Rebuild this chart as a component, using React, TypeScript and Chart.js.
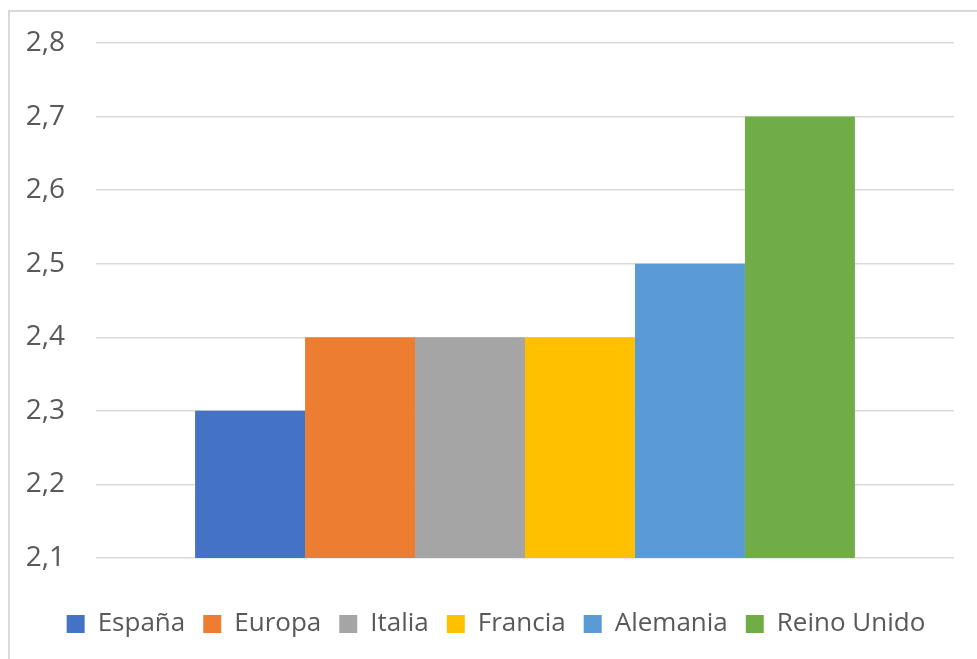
import React, { useEffect, useRef } from "react";
import { Chart, registerables } from "chart.js";

Chart.register(...registerables);

const CATEGORIES = [""];
const SERIES_NAMES = ["España", "Europa", "Italia", "Francia", "Alemania", "Reino Unido"];
const SERIES_VALUES = [2.3, 2.4, 2.4, 2.4, 2.5, 2.7];
const SERIES_COLORS = ["#4472C4", "#ED7D31", "#A5A5A5", "#FFC000", "#5B9BD5", "#70AD47"];
const Y_TICKS = [2.1, 2.2, 2.3, 2.4, 2.5, 2.6, 2.7, 2.8];

const FONT = "'Open Sans', 'Liberation Sans', sans-serif";

const legendShift = {
  id: "legendShift",
  afterLayout(chart: any) {
    if (chart.legend) {
      chart.legend.left += 14;
      chart.legend.right += 14;
    }
  },
};

export default function App() {
  const ref = useRef<HTMLCanvasElement | null>(null);

  useEffect(() => {
    if (!ref.current) return;
    const chart = new Chart(ref.current, {
      type: "bar",
      data: {
        labels: CATEGORIES,
        datasets: SERIES_NAMES.map((name, i) => ({
          label: name,
          data: [SERIES_VALUES[i]],
          backgroundColor: SERIES_COLORS[i],
          borderWidth: 0,
          categoryPercentage: 0.769,
          barPercentage: 1,
        })),
      },
      plugins: [legendShift],
      options: {
        animation: false,
        responsive: false,
        layout: { padding: { top: 31, right: 23, left: 0, bottom: 12 } },
        plugins: {
          tooltip: { enabled: false },
          legend: {
            position: "bottom",
            labels: {
              boxWidth: 18,
              boxHeight: 18,
              padding: 18,
              color: "#595959",
              font: { family: FONT, size: 26 },
            },
          },
        },
        scales: {
          x: {
            display: true,
            grid: { display: false },
            border: { display: false },
            ticks: { display: false },
            afterFit: (scale: any) => {
              scale.height = 35;
            },
          },
          y: {
            min: 2.1,
            max: 2.8,
            afterBuildTicks: (axis: any) => {
              axis.ticks = Y_TICKS.map((v) => ({ value: v }));
            },
            afterFit: (scale: any) => {
              scale.width = 86;
              scale.paddingTop = 0;
              scale.paddingBottom = 0;
            },
            border: { display: false },
            grid: { color: "#d9d9d9", lineWidth: 1.5, drawTicks: false },
            ticks: {
              padding: 31,
              color: "#595959",
              font: { family: FONT, size: 28 },
              callback: (v: any) => Number(v).toFixed(1).replace(".", ","),
            },
          },
        },
      },
    });
    return () => chart.destroy();
  }, []);

  return (
    <div
      style={{
        position: "fixed",
        left: 8,
        top: 10,
        width: 969,
        height: 649,
        borderLeft: "2px solid #d9d9d9",
        borderTop: "2px solid #d9d9d9",
        background: "#fff",
      }}
    >
      <canvas ref={ref} width={967} height={647} style={{ display: "block" }} />
    </div>
  );
}
